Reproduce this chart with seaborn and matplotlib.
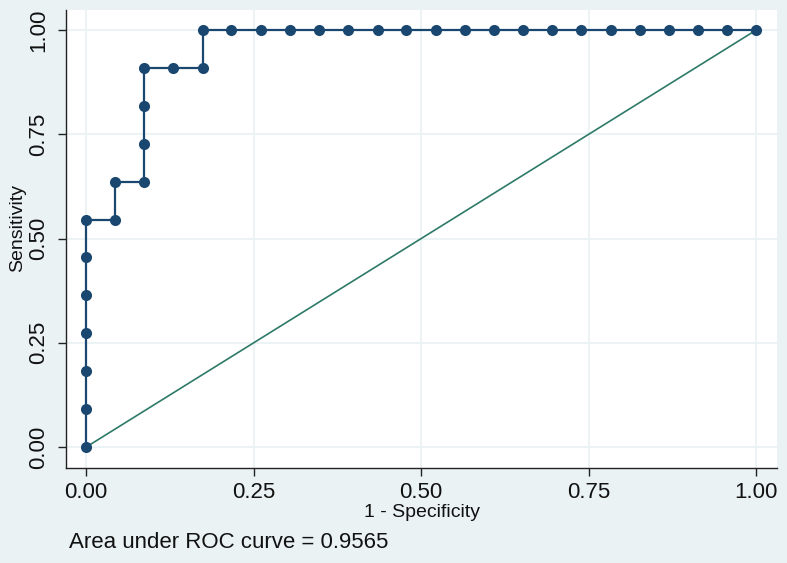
import matplotlib
matplotlib.use("Agg")
import matplotlib.pyplot as plt
import seaborn as sns
import pandas as pd

# ROC points (1 - specificity, sensitivity)
fpr = [0.0, 0.0, 0.0, 0.0, 0.0, 0.0, 0.0, 0.043, 0.043, 0.087, 0.087, 0.087,
       0.087, 0.130, 0.174, 0.174, 0.217, 0.261, 0.304, 0.348, 0.391, 0.435,
       0.478, 0.522, 0.565, 0.609, 0.652, 0.696, 0.739, 0.783, 0.826, 0.870,
       0.913, 0.957, 1.0]
tpr = [0.0, 0.091, 0.182, 0.273, 0.364, 0.455, 0.545, 0.545, 0.636, 0.636,
       0.727, 0.818, 0.909, 0.909, 0.909, 1.0, 1.0, 1.0, 1.0, 1.0, 1.0, 1.0,
       1.0, 1.0, 1.0, 1.0, 1.0, 1.0, 1.0, 1.0, 1.0, 1.0, 1.0, 1.0, 1.0]
ref_x = [0.0, 1.0]
ref_y = [0.0, 1.0]
ticks = [0.0, 0.25, 0.5, 0.75, 1.0]
tick_labels = ["0.00", "0.25", "0.50", "0.75", "1.00"]
auc_text = "Area under ROC curve = 0.9565"

bg = "#EAF2F3"
navy = "#1A476F"
green = "#2E7A68"

sns.set_theme(style="white")
plt.rcParams["font.family"] = ["Liberation Sans", "DejaVu Sans"]

fig = plt.figure(figsize=(7.87, 5.63), dpi=100, facecolor=bg)
W, H = 787, 563
ax = fig.add_axes([66 / W, 1 - 468 / H, (777 - 66) / W, (468 - 10) / H])
ax.set_facecolor("white")

roc = pd.DataFrame({"fpr": fpr, "tpr": tpr})
ref = pd.DataFrame({"x": ref_x, "y": ref_y})

sns.lineplot(data=ref, x="x", y="y", ax=ax, color=green, linewidth=1.2,
             sort=False, estimator=None, zorder=2)
sns.lineplot(data=roc, x="fpr", y="tpr", ax=ax, color=navy, linewidth=1.6,
             marker="o", markersize=8, markeredgewidth=0, sort=False,
             estimator=None, zorder=3)

ax.set_xlim(-0.0299, 1.031)
ax.set_ylim(-0.050, 1.048)
ax.set_xticks(ticks)
ax.set_xticklabels(tick_labels)
ax.set_yticks(ticks)
ax.set_yticklabels(tick_labels, rotation=90, va="center")
ax.grid(True, color=bg, linewidth=1.3)
ax.set_axisbelow(True)

for side in ["top", "right"]:
    ax.spines[side].set_visible(False)
for side in ["left", "bottom"]:
    ax.spines[side].set_color("#222222")
    ax.spines[side].set_linewidth(1.0)

ax.tick_params(axis="both", which="major", length=6, width=1.0,
               color="#222222", labelsize=16, labelcolor="#111111",
               left=True, bottom=True)
ax.tick_params(axis="x", pad=4)
ax.tick_params(axis="y", pad=6)

ax.set_xlabel("1 - Specificity", fontsize=14, color="#111111", labelpad=1)
ax.set_ylabel("Sensitivity", fontsize=14, color="#111111")
ax.yaxis.set_label_coords(-0.056, 0.525)

fig.text(69 / W, 1 - 543 / H, auc_text, fontsize=16, color="#111111",
         ha="left", va="center")

fig.savefig("out.png", dpi=100, facecolor=bg)
